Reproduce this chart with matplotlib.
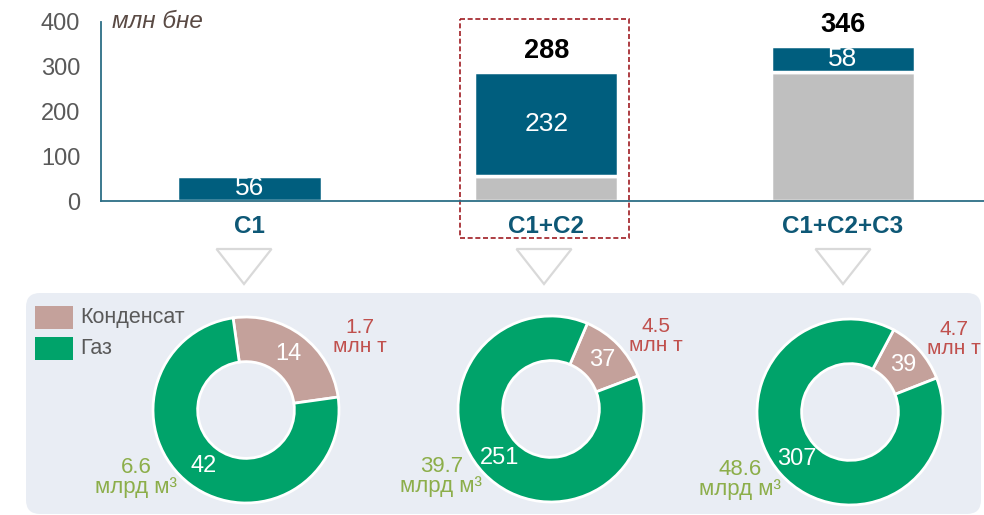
import matplotlib
matplotlib.use("Agg")
import matplotlib.pyplot as plt
from matplotlib.patches import FancyBboxPatch, Polygon, Rectangle
import numpy as np

plt.rcParams['font.family'] = ['Liberation Sans', 'DejaVu Sans']

# ---------------- data ----------------
categories = ['C1', 'C1+C2', 'C1+C2+C3']
base_values = [0, 56, 288]          # grey part (previous category)
increment_values = [56, 232, 58]    # blue part
total_labels = ['', '288', '346']

condensate = [14, 37, 39]
gas = [42, 251, 307]
condensate_phys = ['1.7', '4.5', '4.7']
gas_phys = ['6.6', '39.7', '48.6']
legend_labels = ['Конденсат', 'Газ']
y_ticks = [0, 100, 200, 300, 400]
unit_label = 'млн бне'

# ---------------- style ----------------
BLUE = '#005E7E'
GREY = '#BFBFBF'
AXIS = '#2C6E86'
CAT = '#0E5876'
TICK = '#595959'
COND = '#C4A19B'
GAS = '#00A36A'
RED = '#C0504D'
OLIVE = '#8CAE4A'
PANEL = '#E9EDF4'

W, H = 984, 515
fig = plt.figure(figsize=(W / 100, H / 100), dpi=100)
fig.patch.set_facecolor('white')

def fx(px):
    return px / W

def fy(py):
    return 1 - py / H

# background overlay axes in pixel coordinates
bg = fig.add_axes([0, 0, 1, 1])
bg.set_xlim(0, W)
bg.set_ylim(H, 0)
bg.axis('off')
bg.add_patch(FancyBboxPatch((26, 293), 955, 221,
                            boxstyle="round,pad=0,rounding_size=14",
                            facecolor=PANEL, edgecolor='none'))
for tx in [244, 544, 843]:
    bg.add_patch(Polygon([[tx - 27.5, 249], [tx + 27.5, 249], [tx, 284]],
                         closed=True, facecolor='white', edgecolor='#D9D9D9',
                         lw=1.6, joinstyle='miter'))
# dashed highlight box
bg.add_patch(Rectangle((460, 19), 169, 219, fill=False, edgecolor='#A01C22',
                       lw=1.2, ls=(0, (3, 1.6)), zorder=5))

# legend
for k, (lab, col) in enumerate(zip(legend_labels, [COND, GAS])):
    y0 = 306 + k * 31
    bg.add_patch(Rectangle((35, y0), 38, 23, facecolor=col, edgecolor='none'))
    bg.text(80, y0 + 11.5, lab, va='center', ha='left', fontsize=15.5, color=TICK)

# ---------------- top bar chart ----------------
ax = fig.add_axes([fx(101), fy(201), (W - 101) / W, (201 - 22) / H])
ax.set_facecolor('none')
x = np.arange(len(categories))
unit = 296.75
ax.set_xlim(-(249.5 - 101) / unit, (W - 249.5) / unit)
ax.set_ylim(0, 400)
bw = 144 / unit
ax.bar(x, base_values, bw, color=GREY, edgecolor='white', lw=2.5)
blue = ax.bar(x, increment_values, bw, bottom=base_values, color=BLUE,
              edgecolor='white', lw=2.5)
ax.bar_label(blue, labels=[str(v) for v in increment_values], label_type='center',
             color='white', fontsize=19)
for i, lab in enumerate(total_labels):
    if lab:
        ax.annotate(lab, (x[i], base_values[i] + increment_values[i]),
                    xytext=(0, 15.5), textcoords='offset points', ha='center',
                    va='center', fontsize=19.5, fontweight='bold', color='black')

for s in ['top', 'right']:
    ax.spines[s].set_visible(False)
for s in ['left', 'bottom']:
    ax.spines[s].set_color(AXIS)
    ax.spines[s].set_linewidth(1.3)
ax.set_yticks(y_ticks)
ax.set_yticklabels([str(t) for t in y_ticks])
ax.tick_params(axis='y', length=0, pad=15, labelsize=17, labelcolor=TICK)
ax.set_xticks(x)
ax.set_xticklabels(categories, fontweight='bold', color=CAT)
ax.tick_params(axis='x', length=0, pad=10, labelsize=17.5)
ax.text(0.013, 1.0, unit_label, transform=ax.transAxes, fontsize=17.5,
        style='italic', color='#5A4A44', ha='left', va='center')

# ---------------- donuts ----------------
centers = [(246, 410), (551, 409), (850, 412)]
start_angles = [98, 67, 62]
red_dx = [1.22, 1.13, 1.12]
R = 93.0
S = 100.0
for i, (cx, cy) in enumerate(centers):
    dax = fig.add_axes([fx(cx - S), fy(cy + S), 2 * S / W, 2 * S / H])
    dax.set_facecolor('none')
    wedges, _ = dax.pie([condensate[i], gas[i]], colors=[COND, GAS],
                        startangle=start_angles[i], counterclock=False,
                        radius=1.0,
                        wedgeprops=dict(width=0.48, edgecolor='white', linewidth=2))
    lim = S / R
    dax.set_xlim(-lim, lim)
    dax.set_ylim(-lim, lim)
    dax.set_aspect('equal')
    dax.axis('off')
    for w, v in zip(wedges, [condensate[i], gas[i]]):
        ang = np.deg2rad((w.theta1 + w.theta2) / 2)
        rr = 0.76
        dax.text(rr * np.cos(ang), rr * np.sin(ang), str(v), ha='center',
                 va='center', color='white', fontsize=17)
    dax.text(red_dx[i], 0.78, condensate_phys[i] + '\nмлн т', ha='center', va='center',
             color=RED, fontsize=15, linespacing=1.0, clip_on=False)
    dax.text(-1.18, -0.73, gas_phys[i] + '\nмлрд м³', ha='center', va='center',
             color=OLIVE, fontsize=16, linespacing=0.95, clip_on=False)

fig.savefig('out.png', dpi=100)
